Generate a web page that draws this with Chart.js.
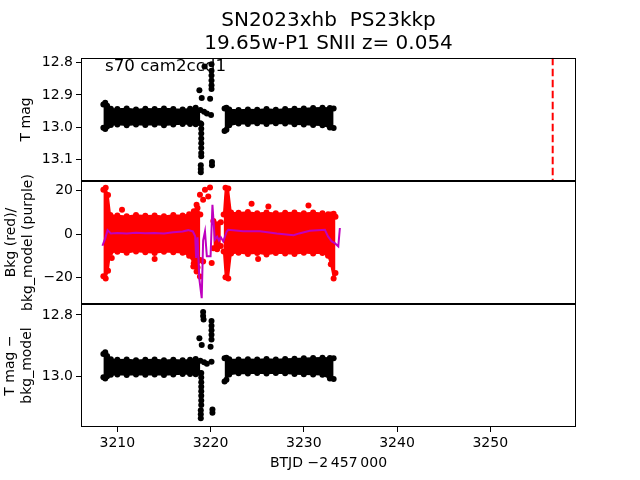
<!DOCTYPE html>
<html>
<head>
<meta charset="utf-8">
<script src="https://cdn.jsdelivr.net/npm/chart.js@4.4.1/dist/chart.umd.min.js"></script>
<style>
html, body { margin: 0; padding: 0; background: #fff; }
#wrap { position: relative; width: 640px; height: 480px; }
canvas { position: absolute; left: 0; top: 0; }
</style>
</head>
<body>
<div id="wrap">
  <canvas id="c1" width="640" height="480"></canvas>
  <canvas id="c2" width="640" height="480"></canvas>
  <canvas id="c3" width="640" height="480"></canvas>
</div>
<script>
// axis limits and ticks
const X_MIN = 3206.1, X_MAX = 3259.2;
const T_MIN = 12.785, T_MAX = 13.167;
const B_MIN = -32.3, B_MAX = 24.5;
const D_MIN = 12.764, D_MAX = 13.167;
const xTicks = [3210, 3220, 3230, 3240, 3250];
const tTicks = [12.8, 12.9, 13.0, 13.1];
const bTicks = [-20, 0, 20];
const dTicks = [12.8, 13.0];
const peakX = 3256.7;

const titleLines = ['SN2023xhb  PS23kkp', '19.65w-P1 SNII z= 0.054'];
const sectorLabel = 's70 cam2ccd1';

// panel 1: T mag, dense band edges (left / right of the gap)
const tLeftX   = [3208.5, 3208.7, 3208.9, 3209.3, 3210.0, 3211.0, 3212.0, 3213.0, 3214.0, 3215.0, 3216.0, 3217.0, 3217.8, 3218.4, 3218.9];
const tLeftTop = [12.930, 12.924, 12.934, 12.943, 12.944, 12.942, 12.945, 12.943, 12.944, 12.942, 12.944, 12.945, 12.943, 12.940, 12.947];
const tLeftBot = [13.002, 13.006, 12.998, 12.993, 12.992, 12.994, 12.992, 12.993, 12.992, 12.994, 12.992, 12.990, 12.990, 12.991, 12.988];
const tRightX   = [3221.5, 3221.7, 3222.0, 3223.0, 3224.0, 3225.0, 3226.0, 3227.0, 3228.0, 3229.0, 3230.0, 3231.0, 3232.0, 3232.8, 3233.2];
const tRightTop = [12.942, 12.940, 12.945, 12.947, 12.945, 12.946, 12.944, 12.946, 12.944, 12.943, 12.942, 12.941, 12.940, 12.941, 12.942];
const tRightBot = [13.012, 13.008, 12.994, 12.989, 12.990, 12.988, 12.990, 12.988, 12.989, 12.991, 12.992, 12.993, 12.994, 13.001, 13.003];
const tOutX = [3218.8, 3219.05, 3219.35, 3220.1, 3220.1, 3220.1, 3220.1, 3220.1, 3220.1, 3219.95, 3220.05, 3219.3, 3219.6,
               3219.0, 3219.0, 3219.0, 3219.0, 3219.0, 3219.0, 3219.0, 3219.0, 3218.95, 3218.95, 3218.95, 3220.15, 3220.15];
const tOutY = [12.886, 12.910, 12.812, 12.805, 12.825, 12.840, 12.855, 12.870, 12.882, 12.912, 12.962, 12.952, 12.958,
               12.990, 13.005, 13.020, 13.035, 13.050, 13.065, 13.080, 13.090, 13.118, 13.130, 13.140, 13.108, 13.118];

// panel 2: background (red points) and background model (purple line)
const rLeftX   = [3208.5, 3208.75, 3209.0, 3209.25, 3210.0, 3211.0, 3212.0, 3213.0, 3214.0, 3215.0, 3216.0, 3217.0, 3217.7, 3218.2, 3218.6, 3218.9];
const rLeftTop = [20.5, 21.4, 18.0, 8.8, 8.6, 8.2, 8.8, 8.4, 8.6, 8.2, 8.8, 8.6, 9.2, 10.5, 12.0, 9.0];
const rLeftBot = [-19.5, -20.5, -17.0, -8.5, -8.2, -8.6, -8.0, -8.4, -8.8, -8.2, -8.4, -8.6, -10.0, -13.5, -15.5, -12.0];
const rGapX   = [3220.3, 3220.7, 3221.1];
const rGapTop = [6.0, 4.5, 5.5];
const rGapBot = [-6.5, -7.0, -5.5];
const rRightX   = [3221.4, 3221.6, 3221.9, 3222.2, 3223.0, 3224.0, 3225.0, 3226.0, 3227.0, 3228.0, 3229.0, 3230.0, 3231.0, 3232.0, 3232.6, 3232.9, 3233.2, 3233.4];
const rRightTop = [9.0, 21.4, 21.0, 10.0, 9.8, 10.2, 9.6, 10.0, 9.6, 9.8, 10.0, 9.6, 10.0, 9.6, 9.2, 9.0, 9.4, 8.0];
const rRightBot = [-8.0, -20.0, -20.5, -9.0, -8.6, -9.2, -8.8, -9.4, -8.8, -9.0, -9.2, -8.6, -9.0, -8.8, -10.0, -14.0, -20.5, -18.0];
const rOutX = [3210.5, 3209.4, 3214.0, 3224.4, 3226.2, 3230.5, 3225.1, 3218.15, 3218.5, 3218.86, 3218.86, 3218.5, 3219.4, 3219.75, 3219.94, 3220.12, 3219.2, 3218.4, 3219.2];
const rOutY = [11.2, -11.0, -11.5, 14.0, 12.7, 13.2, -11.5, -15.0, -17.3, -19.6, 18.2, 13.5, 20.5, 17.4, 21.5, -13.4, 15.8, 10.4, -12.7];
const mX = [3208.4, 3208.7, 3208.95, 3209.3, 3210.0, 3211.0, 3212.0, 3213.0, 3214.0, 3215.0, 3216.0, 3217.0, 3217.6, 3218.1,
            3218.35, 3218.45, 3218.6, 3218.8, 3219.05, 3219.2, 3219.4, 3219.6, 3220.0, 3220.2, 3220.45, 3220.7, 3220.9, 3221.1,
            3221.36, 3221.73, 3221.9, 3223.5, 3225.3, 3227.1, 3228.9, 3229.5, 3230.65, 3232.26, 3232.6, 3233.0, 3233.33, 3233.7, 3233.87];
const mY = [-5.4, -2.0, 1.8, 0.3, 0.5, 0.3, 0.6, 0.4, 0.5, 0.3, 0.8, 1.2, 1.8, 1.2,
            -1.0, -11.0, -1.5, -21.0, -29.6, -3.0, 1.2, -10.3, -10.3, 13.5, -2.6, -1.2, -3.0, -1.5,
            -3.4, 1.2, 2.0, 1.3, 1.3, 0.3, -0.5, 0.3, 1.5, 2.0, -1.1, -3.4, -4.2, -5.7, 2.8];

// panel 3: T mag - bkg_model
const dLeftTop = [12.928, 12.922, 12.934, 12.945, 12.947, 12.946, 12.948, 12.947, 12.946, 12.948, 12.947, 12.948, 12.947, 12.944, 12.950];
const dLeftBot = [13.004, 13.008, 13.001, 12.996, 12.995, 12.997, 12.995, 12.996, 12.995, 12.997, 12.995, 12.993, 12.993, 12.994, 12.991];
const dRightTop = [12.942, 12.940, 12.945, 12.946, 12.945, 12.946, 12.944, 12.946, 12.944, 12.943, 12.942, 12.941, 12.940, 12.941, 12.942];
const dRightBot = [13.018, 13.012, 12.995, 12.991, 12.992, 12.990, 12.992, 12.990, 12.991, 12.993, 12.994, 12.995, 12.996, 13.008, 13.010];
const dOutX = [3219.2, 3219.2, 3219.25, 3220.1, 3220.1, 3220.1, 3220.1, 3220.1, 3218.8, 3219.05, 3220.0, 3220.1, 3219.3, 3219.6,
               3219.0, 3219.0, 3219.0, 3219.0, 3219.0, 3219.0, 3219.0, 3219.0, 3218.95, 3218.95, 3218.95, 3220.2, 3220.2];
const dOutY = [12.790, 12.803, 12.815, 12.820, 12.835, 12.850, 12.865, 12.880, 12.876, 12.898, 12.904, 12.953, 12.955, 12.960,
               12.990, 13.005, 13.020, 13.035, 13.050, 13.065, 13.080, 13.095, 13.112, 13.125, 13.138, 13.110, 13.120];

const FONT = 'DejaVu Sans';
Chart.defaults.font.family = FONT;
Chart.defaults.color = '#000';

function pts(xs, ys) {
  return xs.map((x, i) => ({x: x, y: ys[i]}));
}

function band(xs, top, bot, color, r) {
  const common = {showLine: true, borderColor: color, backgroundColor: color, borderWidth: 1.5,
    pointRadius: r, pointBorderWidth: 0, pointBackgroundColor: color, tension: 0, order: 2};
  return [
    Object.assign({data: pts(xs, top), fill: false}, common),
    Object.assign({data: pts(xs, bot), fill: '-1'}, common)
  ];
}

function dots(xs, ys, color, r) {
  return {data: pts(xs, ys), showLine: false, pointRadius: r, pointBorderWidth: 0,
    pointBackgroundColor: color, borderColor: color, backgroundColor: color, order: 1};
}

function minus(v) {
  return v < 0 ? '\u2212' + Math.abs(v) : String(v);
}

function yAxis(min, max, ticks, reverse, title, pad, fmt) {
  return {
    type: 'linear', position: 'left', min: min, max: max, reverse: reverse,
    afterFit: s => { s.width = 81; },
    afterBuildTicks: s => { s.ticks = ticks.map(v => ({value: v})); },
    grid: {drawOnChartArea: false, drawTicks: true, tickLength: 5, color: '#000', lineWidth: 1},
    border: {display: false},
    ticks: {color: '#000', padding: 3, font: {size: 14}, callback: fmt, autoSkip: false},
    title: {display: true, text: title, color: '#000', font: {size: 14, lineHeight: 1.2}, padding: {top: pad, bottom: 0}}
  };
}

function xAxis(show) {
  const ax = {type: 'linear', position: 'bottom', min: X_MIN, max: X_MAX, display: show};
  if (show) {
    Object.assign(ax, {
      afterFit: s => { s.height = 53; },
      afterBuildTicks: s => { s.ticks = xTicks.map(v => ({value: v})); },
      grid: {drawOnChartArea: false, drawTicks: true, tickLength: 5, color: '#000', lineWidth: 1},
      border: {display: false},
      ticks: {color: '#000', padding: 3, font: {size: 14}, maxRotation: 0, autoSkip: false, callback: v => String(v)},
      title: {display: true, text: 'BTJD \u22122\u2009457\u2009000', color: '#000', font: {size: 14}, padding: {top: 0, bottom: 8}}
    });
  }
  return ax;
}

const frame = {
  id: 'frame',
  afterDraw(chart) {
    const a = chart.chartArea, ctx = chart.ctx;
    ctx.save();
    ctx.strokeStyle = '#000';
    ctx.lineWidth = 1;
    const l = Math.round(a.left) + 0.5, t = Math.round(a.top) + 0.5;
    const r = Math.round(a.right) - 0.5, b = Math.round(a.bottom) - 0.5;
    ctx.strokeRect(l, t, r - l, b - t);
    ctx.restore();
  }
};

const label = {
  id: 'label',
  afterDatasetsDraw(chart) {
    const a = chart.chartArea, ctx = chart.ctx;
    ctx.save();
    ctx.font = '16.7px "' + FONT + '"';
    ctx.fillStyle = '#000';
    ctx.textBaseline = 'alphabetic';
    ctx.fillText(sectorLabel, a.left + 24, a.top + 13);
    ctx.restore();
  }
};

function baseOptions(padding, yScale, showX, title) {
  return {
    responsive: false, animation: false, events: [],
    layout: {padding: padding},
    plugins: {legend: {display: false}, tooltip: {enabled: false}, title: title || {display: false}},
    scales: {x: xAxis(showX), y: yScale}
  };
}

// panel 1
new Chart('c1', {
  type: 'line',
  data: {datasets: [
    {data: [{x: peakX, y: T_MIN}, {x: peakX, y: T_MAX}], showLine: true, borderColor: '#ff0000',
     borderWidth: 2, borderDash: [7.5, 3.5], pointRadius: 0, fill: false, order: 0},
    dots(tOutX, tOutY, '#000', 3),
    ...band(tLeftX, tLeftTop, tLeftBot, '#000', 3),
    ...band(tRightX, tRightTop, tRightBot, '#000', 3)
  ]},
  options: baseOptions({top: 0, bottom: 299, left: 0, right: 64},
    yAxis(T_MIN, T_MAX, tTicks, true, 'T mag', 18, v => v.toFixed(1)), false,
    {display: true, text: titleLines, color: '#000', fullSize: false,
     font: {size: 20, weight: 'normal', lineHeight: 1.12}, padding: {top: 10, bottom: 3}}),
  plugins: [frame, label]
});

// panel 2
new Chart('c2', {
  type: 'line',
  data: {datasets: [
    {data: pts(mX, mY), showLine: true, borderColor: '#bf00bf', borderWidth: 2, pointRadius: 0, fill: false, tension: 0, order: 0},
    dots(rOutX, rOutY, '#ff0000', 3),
    ...band(rLeftX, rLeftTop, rLeftBot, '#ff0000', 3),
    ...band(rGapX, rGapTop, rGapBot, '#ff0000', 3),
    ...band(rRightX, rRightTop, rRightBot, '#ff0000', 3)
  ]},
  options: baseOptions({top: 181, bottom: 176, left: 0, right: 64},
    yAxis(B_MIN, B_MAX, bTicks, false, ['Bkg (red)/', 'bkg_model (purple)'], 3, minus), false),
  plugins: [frame]
});

// panel 3
new Chart('c3', {
  type: 'line',
  data: {datasets: [
    dots(dOutX, dOutY, '#000', 3),
    ...band(tLeftX, dLeftTop, dLeftBot, '#000', 3),
    ...band(tRightX, dRightTop, dRightBot, '#000', 3)
  ]},
  options: baseOptions({top: 304, bottom: 0, left: 0, right: 64},
    yAxis(D_MIN, D_MAX, dTicks, true, ['T mag \u2212', 'bkg_model'], 2, v => v.toFixed(1)), true),
  plugins: [frame]
});
</script>
</body>
</html>
